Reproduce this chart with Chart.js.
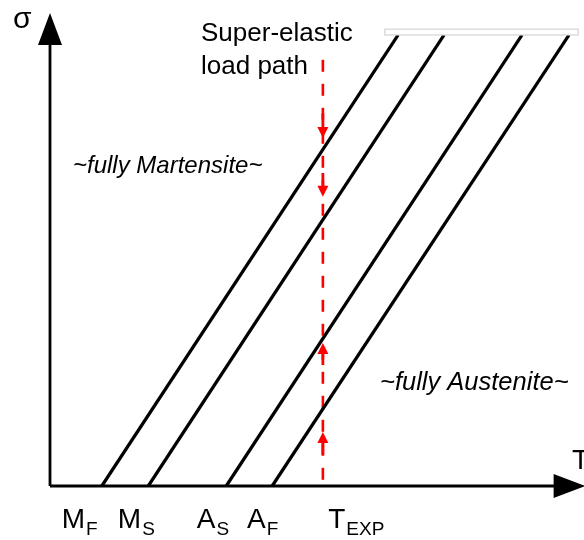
<!DOCTYPE html>
<html>
<head>
<meta charset="utf-8">
<script src="https://cdn.jsdelivr.net/npm/chart.js@4"></script>
<style>
  html, body { margin: 0; padding: 0; background: #fff; }
  #wrap { width: 584px; height: 540px; }
</style>
</head>
<body>
<div id="wrap"><canvas id="phaseChart"></canvas></div>
<script>
// ===========================
// DATA (T in arbitrary units 0..100, sigma 0..100)
// ===========================
const lineStartT = [9.7, 18.4, 33.0, 41.6];      // M_F, M_S, A_S, A_F at sigma = 0
const lineEndT = [65.2, 73.8, 88.4, 97.2];        // same lines at the top
const lineEndSigma = 92.8;

const tExp = 51.1;
const loadPathTop = 87.7;

// [from, to] sigma of the small red arrows on the load path
const downArrows = [[76.7, 71.6], [64.4, 59.5]];
const upArrows = [[24.9, 29.4], [6.4, 11.1]];

const tickMain = ["M", "M", "A", "A", "T"];
const tickSub = ["F", "S", "S", "F", "EXP"];
const tickT = [2.2, 12.7, 27.5, 36.9, 52.1];

const FONT = "'Liberation Sans', Arial, sans-serif";

// ===========================
// DATASETS
// ===========================
const datasets = [];

lineStartT.forEach((t0, i) => {
    datasets.push({
        data: [{ x: t0, y: 0 }, { x: lineEndT[i], y: lineEndSigma }],
        borderColor: "#000",
        borderWidth: 3.2,
        pointRadius: 0
    });
});

// axes
datasets.push({
    data: [{ x: 0, y: 0 }, { x: 95, y: 0 }],
    borderColor: "#000",
    borderWidth: 2.8,
    pointRadius: 0
});
datasets.push({
    data: [{ x: 0, y: 0 }, { x: 0, y: 91 }],
    borderColor: "#000",
    borderWidth: 2.8,
    pointRadius: 0
});

// super-elastic load path
datasets.push({
    data: [{ x: tExp, y: loadPathTop }, { x: tExp, y: 0 }],
    borderColor: "#ff0000",
    borderWidth: 2.6,
    borderDash: [12, 12],
    pointRadius: 0
});

// ===========================
// DECORATIONS
// ===========================
function arrowHead(ctx, tipX, tipY, dx, dy, len, half, color) {
    const nx = -dy, ny = dx;
    ctx.beginPath();
    ctx.moveTo(tipX, tipY);
    ctx.lineTo(tipX - dx * len + nx * half, tipY - dy * len + ny * half);
    ctx.lineTo(tipX - dx * len - nx * half, tipY - dy * len - ny * half);
    ctx.closePath();
    ctx.fillStyle = color;
    ctx.fill();
}

const decorations = {
    id: "decorations",
    afterDatasetsDraw(chart) {
        const { ctx, scales: { x, y } } = chart;
        ctx.save();

        // axis arrow heads
        arrowHead(ctx, x.getPixelForValue(0), y.getPixelForValue(97.3), 0, -1, 32, 12, "#000");
        arrowHead(ctx, x.getPixelForValue(100.3), y.getPixelForValue(0), 1, 0, 32, 12, "#000");

        // small red arrows
        const ax = x.getPixelForValue(tExp);
        downArrows.concat(upArrows).forEach(([a, b]) => {
            const y0 = y.getPixelForValue(a), y1 = y.getPixelForValue(b);
            const dir = y1 > y0 ? 1 : -1;
            ctx.strokeStyle = "#ff0000";
            ctx.lineWidth = 2.8;
            ctx.beginPath();
            ctx.moveTo(ax, y0);
            ctx.lineTo(ax, y1 - dir * 8);
            ctx.stroke();
            arrowHead(ctx, ax, y1, 0, dir, 11, 5.5, "#ff0000");
        });

        // light grey cap on top of the lines
        const rx0 = x.getPixelForValue(62.7), rx1 = x.getPixelForValue(98.9);
        const ry0 = y.getPixelForValue(94.0), ry1 = y.getPixelForValue(lineEndSigma);
        ctx.fillStyle = "#fff";
        ctx.fillRect(rx0, ry0, rx1 - rx0, ry1 - ry0);
        ctx.strokeStyle = "#d4d4d4";
        ctx.lineWidth = 1.2;
        ctx.strokeRect(rx0, ry0, rx1 - rx0, ry1 - ry0);

        // texts
        ctx.fillStyle = "#000";
        ctx.textAlign = "left";
        ctx.textBaseline = "alphabetic";

        ctx.font = "30px " + FONT;
        ctx.fillText("σ", 13, 28);
        ctx.font = "28px " + FONT;
        ctx.fillText("T", 572, 469);

        const base = y.getPixelForValue(0) + 42;
        tickMain.forEach((m, i) => {
            const px = x.getPixelForValue(tickT[i]);
            ctx.font = "28px " + FONT;
            ctx.fillText(m, px, base);
            const w = ctx.measureText(m).width;
            ctx.font = "19px " + FONT;
            ctx.fillText(tickSub[i], px + w + 1, base + 7);
        });

        ctx.font = "26px " + FONT;
        ctx.fillText("Super-elastic", 201, 41);
        ctx.fillText("load path", 201, 74);
        ctx.font = "italic 24px " + FONT;
        ctx.fillText("~fully Martensite~", 73, 173);
        ctx.font = "italic 25.5px " + FONT;
        ctx.fillText("~fully Austenite~", 380, 390);

        ctx.restore();
    }
};

// ===========================
// CHART
// ===========================
const ctx = document.getElementById("phaseChart").getContext("2d");

new Chart(ctx, {
    type: "line",
    data: { datasets: datasets },
    options: {
        responsive: true,
        maintainAspectRatio: false,
        animation: false,
        clip: false,
        layout: { padding: { left: 50, right: 0, top: 0, bottom: 54 } },
        plugins: { legend: { display: false }, tooltip: { enabled: false } },
        elements: { line: { tension: 0, borderCapStyle: "butt" } },
        scales: {
            x: { type: "linear", min: 0, max: 100, display: false },
            y: { type: "linear", min: 0, max: 100, display: false }
        }
    },
    plugins: [decorations]
});
</script>
</body>
</html>
